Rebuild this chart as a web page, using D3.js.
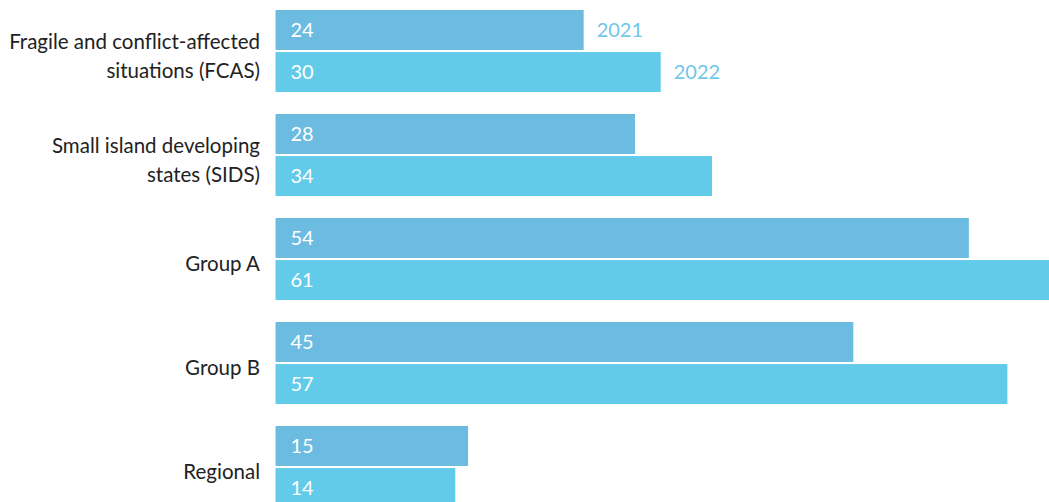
<!DOCTYPE html>
<html><head><meta charset="utf-8">
<script src="https://cdn.jsdelivr.net/npm/d3@7"></script>
<style>
html,body{margin:0;padding:0;background:#fff;overflow:hidden;}
svg{display:block;font-family:Lato,"Open Sans",sans-serif;}
</style></head>
<body>
<script>
const categories = [
  ["Fragile and conflict-affected", "situations (FCAS)"],
  ["Small island developing", "states (SIDS)"],
  ["Group A"],
  ["Group B"],
  ["Regional"]
];
const seriesNames = ["2021", "2022"];
const values2021 = [24, 28, 54, 45, 15];
const values2022 = [30, 34, 61, 57, 14];
const colors = ["#6cbbe0", "#62cbea"];
const legendColor = "#6fc6ea";

const W = 1049, H = 502;
const svg = d3.select("body").append("svg").attr("width", W).attr("height", H);

const keys = categories.map((c, i) => "c" + i);
const y0 = d3.scaleBand().domain(keys).range([10, 10 + 4 * 104 + 82]).paddingInner(22 / 104).paddingOuter(0);
const y1 = d3.scaleBand().domain(seriesNames).range([0, y0.bandwidth()]).paddingInner(0.05);
const x = d3.scaleLinear().domain([0, 61]).range([275.5, 275.5 + 61 * 12.84]);

const series = [values2021, values2022];
const data = [];
keys.forEach((k, i) => seriesNames.forEach((s, j) => data.push({k, s, j, v: series[j][i], i})));

svg.selectAll("rect.bar").data(data).enter().append("rect")
  .attr("class", "bar")
  .attr("x", x(0))
  .attr("y", d => y0(d.k) + y1(d.s))
  .attr("width", d => x(d.v) - x(0))
  .attr("height", y1.bandwidth())
  .attr("fill", d => colors[d.j]);

svg.selectAll("text.val").data(data).enter().append("text")
  .attr("class", "val")
  .attr("x", x(0) + 15)
  .attr("y", d => y0(d.k) + y1(d.s) + y1.bandwidth() / 2)
  .attr("dy", "0.36em")
  .attr("fill", "#fff")
  .attr("font-size", 20)
  .text(d => d.v);

// category labels
categories.forEach((lines, i) => {
  const cy = y0(keys[i]) + y0.bandwidth() / 2 + 5;
  const lh = 29.5;
  const t = svg.append("text")
    .attr("text-anchor", "end")
    .attr("fill", "#222")
    .attr("font-size", 20.5);
  lines.forEach((ln, li) => {
    t.append("tspan")
      .attr("x", 260)
      .attr("y", cy + (li - (lines.length - 1) / 2) * lh)
      .attr("dy", "0.36em")
      .text(ln);
  });
});

// legend next to first group bars
seriesNames.forEach((s, j) => {
  svg.append("text")
    .attr("x", x(series[j][0]) + 13)
    .attr("y", y0(keys[0]) + y1(s) + y1.bandwidth() / 2)
    .attr("dy", "0.36em")
    .attr("fill", legendColor)
    .attr("font-size", 20)
    .text(s);
});
</script>
</body></html>
